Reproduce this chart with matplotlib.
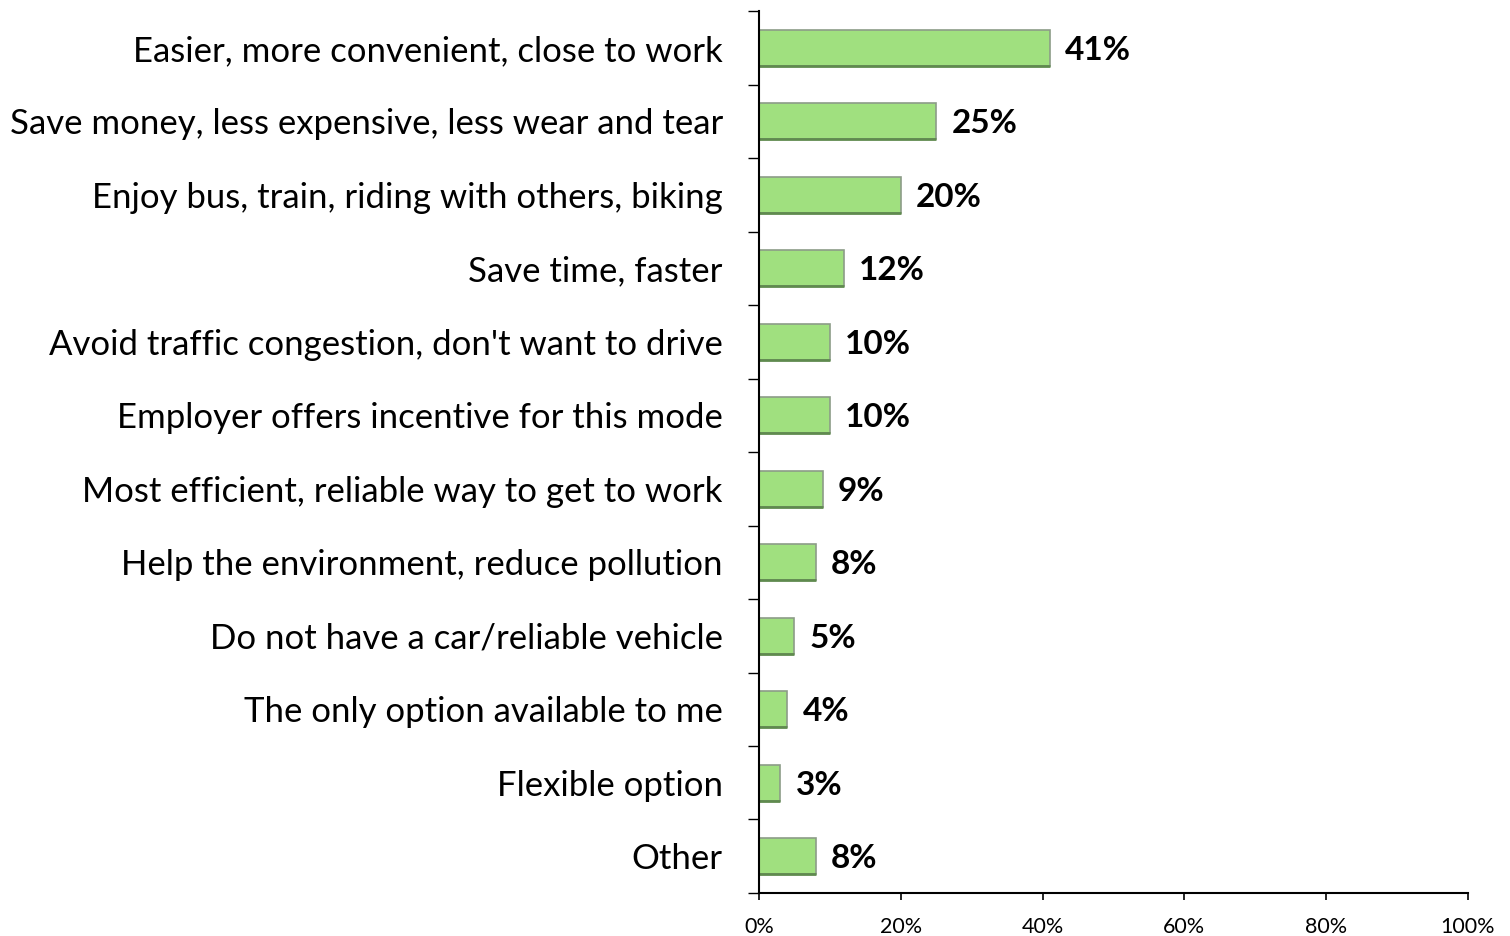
import numpy as np
import matplotlib
matplotlib.use("Agg")
import matplotlib.pyplot as plt
from matplotlib.ticker import FixedLocator, PercentFormatter

categories = [
    "Easier, more convenient, close to work",
    "Save money, less expensive, less wear and tear",
    "Enjoy bus, train, riding with others, biking",
    "Save time, faster",
    "Avoid traffic congestion, don't want to drive",
    "Employer offers incentive for this mode",
    "Most efficient, reliable way to get to work",
    "Help the environment, reduce pollution",
    "Do not have a car/reliable vehicle",
    "The only option available to me",
    "Flexible option",
    "Other",
]
values = [41, 25, 20, 12, 10, 10, 9, 8, 5, 4, 3, 8]
xticks = [0, 20, 40, 60, 80, 100]

plt.rcParams['font.family'] = ['Lato', 'DejaVu Sans']

fig = plt.figure(figsize=(15.1, 9.36), dpi=100)
ax = fig.add_axes([0.5026, 0.046, 0.4696, 0.942])

n = len(categories)
y = np.arange(n)
bars = ax.barh(y, values, height=0.49, color="#a0e07f", edgecolor="#8c9c88", linewidth=1.2)
# darker lower edge for the bevelled look
for b in bars:
    ax.plot([b.get_x(), b.get_x() + b.get_width()], [b.get_y() + b.get_height()] * 2,
            color="#5f8a4e", lw=2.0, solid_capstyle="butt")

for yi, v in zip(y, values):
    ax.annotate(f"{v}%", (v, yi), xytext=(11, 0), textcoords="offset points",
                va="center_baseline", ha="left", fontsize=24, fontweight="bold", color="black")

ax.set_xlim(0, 100)
ax.set_ylim(n - 0.5, -0.5)
ax.set_xticks(xticks)
ax.xaxis.set_major_formatter(PercentFormatter(decimals=0))
ax.tick_params(axis="x", direction="out", length=5, width=1.2, labelsize=15.5, pad=12)

ax.set_yticks(y)
ax.set_yticklabels(categories, fontsize=25)
ax.tick_params(axis="y", length=0, pad=26)
ax.yaxis.set_minor_locator(FixedLocator(np.arange(-0.5, n, 1.0)))
ax.tick_params(axis="y", which="minor", direction="out", length=8, width=1)

for side in ("top", "right"):
    ax.spines[side].set_visible(False)
ax.spines["left"].set_linewidth(1.5)
ax.spines["bottom"].set_linewidth(1.5)

fig.savefig("out.png", dpi=100)
